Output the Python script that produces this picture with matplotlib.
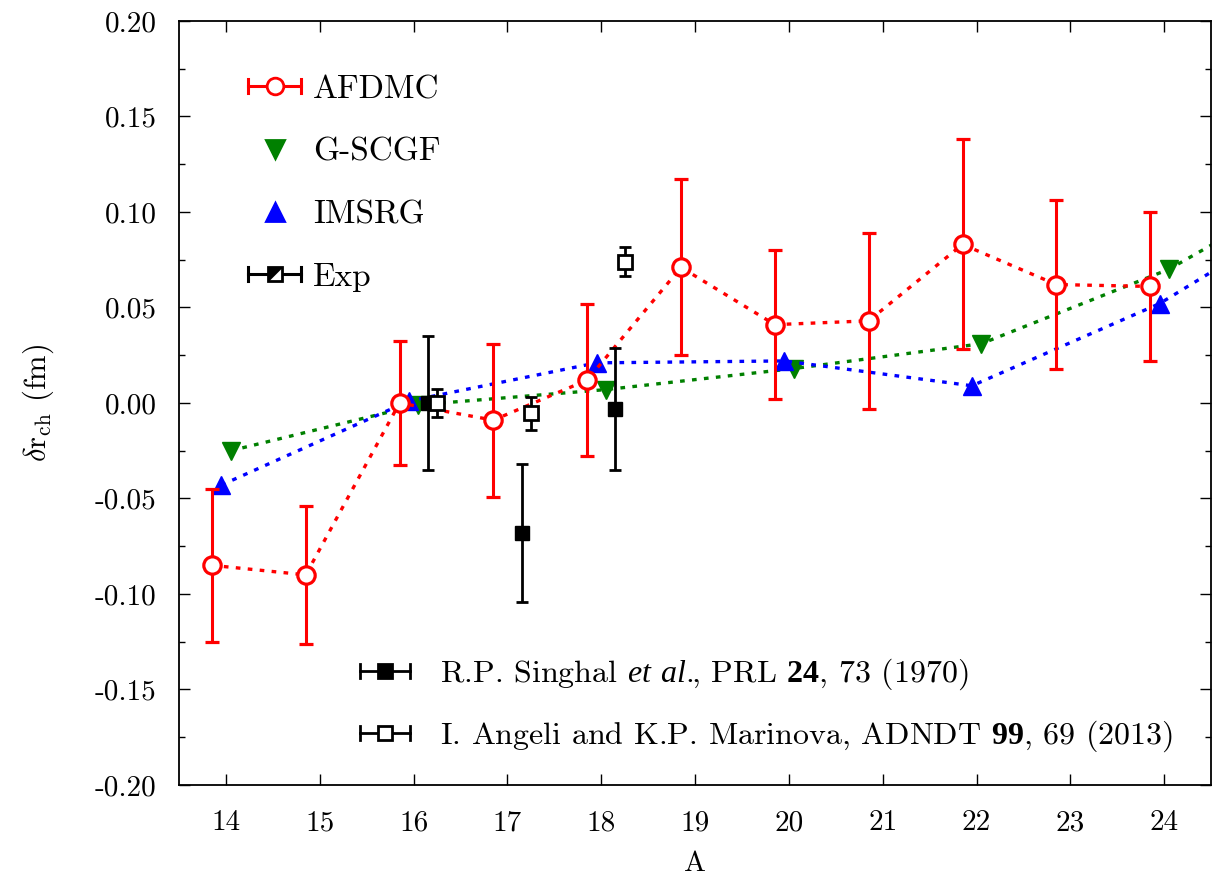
import numpy as np
import matplotlib
matplotlib.use("Agg")
import matplotlib.pyplot as plt
from matplotlib.lines import Line2D
from matplotlib.legend_handler import HandlerBase
from matplotlib.path import Path
from matplotlib.ticker import MultipleLocator
from matplotlib.font_manager import FontProperties

plt.rcParams.update({
    "font.family": "serif",
    "font.serif": ["cmr10"],
    "mathtext.fontset": "cm",
    "mathtext.rm": "cmr10",
    "mathtext.it": "Liberation Serif:italic",
    "mathtext.bf": "Liberation Serif:bold",
    "axes.unicode_minus": False,
    "axes.formatter.use_mathtext": True,
})

# ---- data -------------------------------------------------------------
afdmc_A = [14, 15, 16, 17, 18, 19, 20, 21, 22, 23, 24]
afdmc_val = [-0.085, -0.090, 0.000, -0.009, 0.012, 0.071, 0.041, 0.043, 0.083, 0.062, 0.061]
afdmc_err = [0.040, 0.036, 0.0325, 0.040, 0.040, 0.046, 0.039, 0.046, 0.055, 0.044, 0.039]

gscgf_A = [14, 16, 18, 20, 22, 24, 25]
gscgf_val = [-0.025, -0.001, 0.007, 0.018, 0.031, 0.070, 0.098]

imsrg_A = [14, 16, 18, 20, 22, 24, 25]
imsrg_val = [-0.043, 0.001, 0.021, 0.022, 0.009, 0.052, 0.082]

singhal_A = [16, 17, 18]
singhal_val = [0.000, -0.068, -0.003]
singhal_err = [0.035, 0.036, 0.032]

angeli_A = [16, 17, 18]
angeli_val = [0.000, -0.0055, 0.074]
angeli_err = [0.0075, 0.0085, 0.0075]

yticks = [-0.20, -0.15, -0.10, -0.05, 0.00, 0.05, 0.10, 0.15, 0.20]
xticks = list(range(14, 25))

# horizontal shifts so overlapping points stay readable
shift = {"afdmc": -0.15, "gscgf": 0.05, "imsrg": -0.05, "singhal": 0.15, "angeli": 0.25}

RED, GREEN, BLUE = "#ff0000", "#008000", "#0000ff"
dotted = (0, (1.4, 2.2))

fig = plt.figure(figsize=(12.24, 8.76), dpi=100)
ax = fig.add_axes([0.1463, 0.1039, 0.8432, 0.8722])

def sx(A, key):
    return np.asarray(A, dtype=float) + shift[key]

ax.plot(sx(gscgf_A, "gscgf"), gscgf_val, color=GREEN, ls=dotted, lw=2.4,
        marker="v", ms=13, mec=GREEN, mfc=GREEN, zorder=2)
ax.plot(sx(imsrg_A, "imsrg"), imsrg_val, color=BLUE, ls=dotted, lw=2.4,
        marker="^", ms=13, mec=BLUE, mfc=BLUE, zorder=2)

ax.plot(sx(afdmc_A, "afdmc"), afdmc_val, color=RED, ls=dotted, lw=2.4, zorder=3)
ax.errorbar(sx(afdmc_A, "afdmc"), afdmc_val, yerr=afdmc_err, fmt="o", color=RED,
            ms=12.5, mfc="white", mec=RED, mew=2.3, elinewidth=2.2,
            capsize=5, capthick=2.2, zorder=4)

ax.errorbar(sx(singhal_A, "singhal"), singhal_val, yerr=singhal_err, fmt="s",
            color="black", ms=10.5, mfc="black", mec="black", elinewidth=2.0,
            capsize=4.5, capthick=2.0, zorder=5)
ax.errorbar(sx(angeli_A, "angeli"), angeli_val, yerr=angeli_err, fmt="s",
            color="black", ms=10.5, mfc="white", mec="black", mew=2.0,
            elinewidth=2.0, capsize=4.5, capthick=2.0, zorder=5)

ax.set_xlim(13.5, 24.5)
ax.set_ylim(-0.20, 0.20)
ax.set_xticks(xticks)
ax.set_xticklabels([str(t) for t in xticks])
ax.set_yticks(yticks)
ax.set_yticklabels([f"{t:.2f}".replace("-0.00", "0.00") for t in yticks])
ax.yaxis.set_minor_locator(MultipleLocator(0.025))
ax.tick_params(which="both", direction="in", top=True, right=True, labelsize=21,
               width=1.0)
ax.tick_params(which="major", length=8, pad=16)
ax.tick_params(which="minor", length=4)
ax.tick_params(axis="x", which="major", pad=18)
for s in ax.spines.values():
    s.set_linewidth(1.3)

ax.set_xlabel("A", fontsize=21, labelpad=10)
ax.set_ylabel(r"$\delta\mathrm{r}_{\mathrm{ch}}$ (fm)", fontsize=22, labelpad=28)


# ---- legend handles ---------------------------------------------------
class BarHandler(HandlerBase):
    """Horizontal error bar with end caps and a centred marker."""

    def __init__(self, color, marker=None, mfc=None, ms=10, bar=True,
                 lw=2.2, half=False):
        super().__init__()
        self.color, self.marker, self.mfc = color, marker, mfc
        self.ms, self.bar, self.lw, self.half = ms, bar, lw, half

    def create_artists(self, legend, orig_handle, xdescent, ydescent,
                       width, height, fontsize, trans):
        y = height / 2 - ydescent
        x0, x1 = -xdescent, width - xdescent
        xc = (x0 + x1) / 2
        arts = []
        if self.bar:
            cap = height * 0.3
            arts.append(Line2D([x0, x1], [y, y], color=self.color, lw=self.lw))
            arts.append(Line2D([x0, x0], [y - cap, y + cap], color=self.color, lw=self.lw))
            arts.append(Line2D([x1, x1], [y - cap, y + cap], color=self.color, lw=self.lw))
        if self.marker is not None:
            arts.append(Line2D([xc], [y], marker=self.marker, ms=self.ms,
                               mfc=self.mfc, mec=self.color, mew=2.0,
                               color=self.color, ls="none"))
        if self.half:
            tri = Path([(-1, 1), (1, 1), (-1, -1), (-1, 1)])
            arts.append(Line2D([xc], [y], marker=tri, ms=self.ms * 0.95,
                               mfc=self.color, mec=self.color, mew=0.5,
                               ls="none"))
        for a in arts:
            a.set_transform(trans)
        return arts


h_afdmc, h_gscgf, h_imsrg, h_exp = (Line2D([], []) for _ in range(4))
leg1 = ax.legend(
    [h_afdmc, h_gscgf, h_imsrg, h_exp], ["AFDMC", "G-SCGF", "IMSRG", "Exp"],
    handler_map={
        h_afdmc: BarHandler(RED, "o", "white", ms=12),
        h_gscgf: BarHandler(GREEN, "v", GREEN, ms=13, bar=False),
        h_imsrg: BarHandler(BLUE, "^", BLUE, ms=13, bar=False),
        h_exp: BarHandler("black", "s", "white", ms=10.5, half=True),
    },
    loc="upper left", bbox_to_anchor=(0.054, 0.947), frameon=False,
    prop=FontProperties(family="serif", size=24),
    handlelength=1.6, handletextpad=0.35, labelspacing=1.0,
    borderaxespad=0)
ax.add_artist(leg1)

h_s, h_a = Line2D([], []), Line2D([], [])
ax.legend(
    [h_s, h_a],
    [r"R.P. Singhal $\mathit{et}$ $\mathit{al.}\!\!$, PRL $\mathbf{24}$, 73 (1970)",
     r"I. Angeli and K.P. Marinova, ADNDT $\mathbf{99}$, 69 (2013)"],
    handler_map={
        h_s: BarHandler("black", "s", "black", ms=10, lw=2.0),
        h_a: BarHandler("black", "s", "white", ms=10, lw=2.0),
    },
    loc="lower left", bbox_to_anchor=(0.163, 0.0235), frameon=False,
    prop=FontProperties(family="serif", size=23, math_fontfamily="custom"),
    handlelength=1.56, handletextpad=0.94, labelspacing=0.83,
    borderaxespad=0)

fig.savefig("out.png", dpi=100)
